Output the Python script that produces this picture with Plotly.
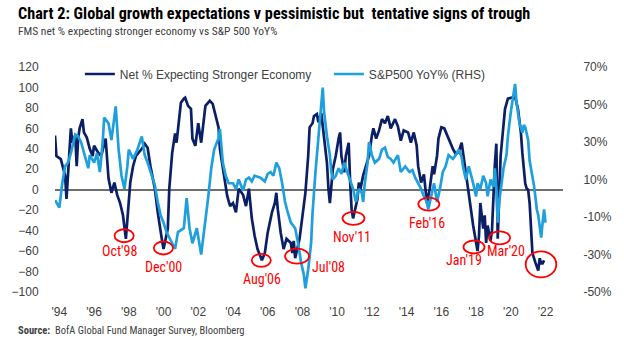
import pandas as pd
import plotly.graph_objects as go

# ---------------- data ----------------
fms_dates = [
    "1994-09", "1994-10", "1995-01", "1995-03", "1995-04", "1995-05", "1995-07", "1995-08", "1995-09", "1995-11",
    "1995-12", "1996-01", "1996-02", "1996-04", "1996-05", "1996-07", "1996-09", "1996-11", "1996-12", "1997-03",
    "1997-05", "1997-07", "1997-08", "1997-10", "1997-12", "1998-02", "1998-04", "1998-06", "1998-08", "1998-10",
    "1998-12", "1999-01", "1999-03", "1999-05", "1999-09", "1999-11", "2000-01", "2000-03", "2000-06", "2000-08",
    "2000-11", "2000-12", "2001-03", "2001-04", "2001-06", "2001-08", "2001-09", "2001-11", "2001-12", "2002-02",
    "2002-03", "2002-05", "2002-07", "2002-08", "2002-10", "2002-12", "2003-02", "2003-05", "2003-08", "2003-10",
    "2003-12", "2004-02", "2004-03", "2004-06", "2004-08", "2004-10", "2004-12", "2005-02", "2005-04", "2005-07",
    "2005-09", "2005-11", "2006-01", "2006-03", "2006-05", "2006-08", "2006-10", "2006-12", "2007-03", "2007-05",
    "2007-06", "2007-07", "2007-09", "2007-11", "2008-01", "2008-04", "2008-05", "2008-06", "2008-07", "2008-10",
    "2008-12", "2009-02", "2009-04", "2009-05", "2009-07", "2009-08", "2009-10", "2009-11", "2010-01", "2010-02",
    "2010-03", "2010-05", "2010-06", "2010-07", "2010-09", "2010-11", "2011-01", "2011-02", "2011-03", "2011-05",
    "2011-06", "2011-08", "2011-09", "2011-10", "2011-11", "2012-02", "2012-03", "2012-04", "2012-06", "2012-08",
    "2012-10", "2012-12", "2013-01", "2013-03", "2013-05", "2013-07", "2013-09", "2013-11", "2014-01", "2014-04",
    "2014-06", "2014-08", "2014-10", "2015-01", "2015-03", "2015-05", "2015-07", "2015-08", "2015-10", "2015-12",
    "2016-02", "2016-04", "2016-06", "2016-07", "2016-09", "2016-10", "2016-12", "2017-02", "2017-04", "2017-06",
    "2017-08", "2017-10", "2017-12", "2018-02", "2018-04", "2018-06", "2018-08", "2018-10", "2019-01", "2019-02",
    "2019-03", "2019-05", "2019-06", "2019-07", "2019-08", "2019-10", "2019-11", "2019-12", "2020-01", "2020-02",
    "2020-03", "2020-05", "2020-07", "2020-08", "2020-10", "2020-12", "2021-03", "2021-05", "2021-07", "2021-08",
    "2021-10", "2021-11", "2021-12", "2022-01", "2022-03", "2022-05", "2022-07", "2022-08", "2022-09", "2022-10",
    "2022-11",
]
fms_values = [
    53, 33, 30, 19, 14, -9, 43, 60, 46, 53,
    23, 50, 60, 69, 56, 51, 40, 33, 43, 36,
    33, 43, 50, 11, -3, 7, -5, -13, -25, -48,
    -16, 7, 23, 33, 40, 45, 41, 23, 1, -22,
    -50, -58, -38, 1, 36, 55, 46, 72, 85, 89,
    90, 82, 79, 50, 43, 65, 46, 82, 87, 84,
    72, 61, 40, 11, -6, -16, -13, -22, 1, -5,
    -16, 1, -28, -45, -58, -69, -62, -42, -22, -13,
    -3, -19, -42, -58, -48, -52, -62, -50, -67, -48,
    -25, -3, 33, 61, 65, 72, 74, 66, 75, 63,
    46, 26, 1, -13, 20, 33, 50, 56, 33, 17,
    33, 46, 7, -19, -28, -9, 7, 0, 14, 23,
    33, 53, 60, 50, 58, 69, 65, 72, 60, 69,
    62, 48, 58, 56, 46, 56, 43, 23, 7, 15,
    -13, 1, 23, 15, 33, 50, 61, 60, 53, 46,
    40, 35, 37, 46, 26, 7, -13, -35, -60, -45,
    -13, -38, -25, -52, -35, -50, -40, 1, 25, 45,
    -48, 33, 63, 79, 89, 90, 91, 79, 56, 36,
    6, 1, 0, -13, -62, -71, -79, -67, -72, -72,
    -69,
]

spx_dates = [
    "1994-09", "1994-12", "1995-02", "1995-04", "1995-06", "1995-08", "1995-11", "1996-01", "1996-03", "1996-05",
    "1996-08", "1996-09", "1996-12", "1997-02", "1997-04", "1997-06", "1997-07", "1997-10", "1997-12", "1998-03",
    "1998-05", "1998-07", "1998-09", "1998-11", "1998-12", "1999-03", "1999-05", "1999-06", "1999-09", "1999-11",
    "2000-01", "2000-04", "2000-06", "2000-08", "2000-10", "2000-12", "2001-02", "2001-06", "2001-08", "2001-10",
    "2002-02", "2002-04", "2002-06", "2002-08", "2002-11", "2003-02", "2003-05", "2003-07", "2003-09", "2003-11",
    "2004-02", "2004-03", "2004-05", "2004-07", "2004-09", "2004-12", "2005-02", "2005-04", "2005-07", "2005-09",
    "2005-11", "2006-01", "2006-03", "2006-07", "2006-10", "2006-12", "2007-02", "2007-04", "2007-06", "2007-08",
    "2007-10", "2007-12", "2008-02", "2008-04", "2008-07", "2008-09", "2008-11", "2009-01", "2009-02", "2009-04",
    "2009-06", "2009-07", "2009-09", "2009-11", "2009-12", "2010-01", "2010-02", "2010-03", "2010-05", "2010-07",
    "2010-08", "2010-09", "2010-11", "2011-01", "2011-03", "2011-05", "2011-07", "2011-08", "2011-11", "2012-01",
    "2012-03", "2012-05", "2012-06", "2012-07", "2012-09", "2012-10", "2012-12", "2013-02", "2013-05", "2013-07",
    "2013-09", "2013-11", "2014-01", "2014-03", "2014-06", "2014-08", "2014-11", "2015-02", "2015-04", "2015-06",
    "2015-08", "2015-10", "2015-12", "2016-02", "2016-03", "2016-05", "2016-07", "2016-09", "2016-11", "2017-01",
    "2017-03", "2017-05", "2017-08", "2017-10", "2017-12", "2018-02", "2018-03", "2018-05", "2018-07", "2018-10",
    "2018-12", "2019-01", "2019-03", "2019-05", "2019-07", "2019-08", "2019-10", "2019-12", "2020-01", "2020-02",
    "2020-03", "2020-04", "2020-06", "2020-07", "2020-09", "2020-10", "2020-12", "2021-02", "2021-03", "2021-04",
    "2021-06", "2021-08", "2021-09", "2021-10", "2021-12", "2022-01", "2022-03", "2022-04", "2022-05", "2022-06",
    "2022-07", "2022-09", "2022-10", "2022-11", "2022-12",
]
spx_values = [
    -1, -5, 8, 17, 19, 24, 34, 33, 30, 24,
    16, 23, 19, 24, 14, 30, 43, 40, 31, 49,
    26, 12, 5, 17, 26, 21, 24, 26, 33, 23,
    19, 12, 7, -2, -9, -13, -18, -24, -27, -18,
    -16, 0, -16, -24, -16, -30, -13, 1, 16, 26,
    32, 37, 19, 12, 8, 8, 5, 10, 4, 10,
    11, 9, 12, 11, 9, 13, 14, 12, 19, 16,
    8, -2, -8, -13, -16, -24, -34, -41, -48, -38,
    -24, -8, 14, 30, 40, 50, 59, 46, 33, 23,
    14, 10, 12, 16, 13, 19, 14, 12, 5, -2,
    5, 3, -2, 7, 19, 30, 23, 19, 21, 26,
    27, 22, 21, 19, 23, 14, 17, 14, 15, 11,
    8, 5, 1, -2, -6, 1, 8, -2, 5, 14,
    17, 23, 21, 23, 26, 22, 17, 10, 17, 8,
    1, 8, 5, 12, 8, 1, 10, 6, 16, 5,
    -13, -2, 10, 16, 23, 33, 46, 55, 61, 51,
    40, 35, 39, 38, 31, 20, 12, 7, 1, -6,
    -9, -21, -13, -6, -13,
]

tick_dates = [f"{y}-12-01" for y in range(1994, 2023, 2)]
tick_labels = ["'94", "'96", "'98", "'00", "'02", "'04", "'06", "'08", "'10", "'12", "'14", "'16", "'18", "'20", "'22"]
left_ticks = [120, 100, 80, 60, 40, 20, 0, -20, -40, -60, -80, -100]
right_ticks = [70, 50, 30, 10, -10, -30, -50]

# trough call-outs (left-axis units)
ring_dates = ["1998-08-25", "2000-11-28", "2006-07-19", "2008-08-10", "2011-11-10",
              "2016-03-13", "2018-10-19", "2020-04-10", "2022-08-28"]
ring_values = [-45, -57, -69, -65, -28, -14, -56, -47, -73]
ring_w_px = [20, 20, 20, 25, 23, 22, 22, 22, 32]
ring_h_px = [13, 13, 13, 15, 13, 13, 13, 13, 26]
callout_text = ["Oct'98", "Dec'00", "Aug'06", "Jul'08", "Nov'11", "Feb'16", "Jan'19", "Mar'20"]
callout_dates = ["1998-05-10", "2000-11-22", "2006-07-25", "2010-06-03", "2011-10-15",
                 "2016-02-01", "2018-03-12", "2020-08-15"]
callout_values = [-60, -76, -87, -76, -46, -33, -69, -60]

# ---------------- style ----------------
W, H = 624, 342
L, R, T, B = 46, 47, 67, 50
PW, PH = W - L - R, H - T - B
NAVY = "#0b1f66"
LIGHT = "#1fa0dc"
RED = "#ff0000"
GREY = "#404040"
NARROW = "Liberation Sans Narrow, Arial Narrow, Roboto Condensed, sans-serif"
BODY = "Liberation Sans, Arial, sans-serif"

DAYS_PER_PX = 20.13
UNITS_PER_PX = 220 / PH


def px_x(x):
    return (x - L) / PW


def px_y(y):
    return (H - B - y) / PH


fig = go.Figure()
fig.add_trace(go.Scatter(
    x=fms_dates, y=fms_values, mode="lines", name="Net % Expecting Stronger Economy",
    line=dict(color=NAVY, width=2.7),
))
fig.add_trace(go.Scatter(
    x=spx_dates, y=spx_values, mode="lines", name="S&P500 YoY% (RHS)", yaxis="y2",
    line=dict(color=LIGHT, width=2.7),
))

shapes = []
for d, v, w, h in zip(ring_dates, ring_values, ring_w_px, ring_h_px):
    c = pd.Timestamp(d)
    dx = pd.Timedelta(days=w / 2 * DAYS_PER_PX)
    shapes.append(dict(
        type="circle", xref="x", yref="y",
        x0=c - dx, x1=c + dx, y0=v - h / 2 * UNITS_PER_PX, y1=v + h / 2 * UNITS_PER_PX,
        line=dict(color=RED, width=1.8), layer="above",
    ))

annotations = []
for t, d, v in zip(callout_text, callout_dates, callout_values):
    annotations.append(dict(
        x=d, y=v, xref="x", yref="y", text=t, showarrow=False,
        font=dict(family=NARROW, size=14, color=RED),
    ))

annotations += [
    dict(xref="paper", yref="paper", x=px_x(5), y=px_y(13), xanchor="left", yanchor="middle",
         text="<b>Chart 2: Global growth expectations v pessimistic but  tentative signs of trough</b>",
         showarrow=False, font=dict(family=NARROW, size=16.2, color="#000000")),
    dict(xref="paper", yref="paper", x=px_x(5), y=px_y(31), xanchor="left", yanchor="middle",
         text="FMS net % expecting stronger economy vs S&P 500 YoY%",
         showarrow=False, font=dict(family=NARROW, size=11.5, color=GREY)),
    dict(xref="paper", yref="paper", x=px_x(5), y=px_y(330), xanchor="left", yanchor="middle",
         text="<b>Source:</b>  BofA Global Fund Manager Survey, Bloomberg",
         showarrow=False, font=dict(family=NARROW, size=10.5, color=GREY)),
]

fig.update_layout(
    width=W, height=H,
    margin=dict(l=L, r=R, t=T, b=B, pad=0),
    paper_bgcolor="white", plot_bgcolor="white",
    showlegend=True,
    legend=dict(
        orientation="h", x=px_x(72), y=px_y(74), xanchor="left", yanchor="middle",
        bgcolor="rgba(0,0,0,0)", entrywidth=204, entrywidthmode="pixels",
        font=dict(family=BODY, size=12, color=GREY), itemwidth=30,
    ),
    xaxis=dict(
        type="date", range=["1994-09-01", "2023-12-04"],
        tickmode="array", tickvals=tick_dates, ticktext=tick_labels,
        showgrid=False, zeroline=False, showline=False,
        ticks="outside", ticklen=9, tickcolor="rgba(0,0,0,0)",
        tickfont=dict(family=BODY, size=12, color=GREY),
    ),
    yaxis=dict(
        range=[-100, 120], tickmode="array", tickvals=left_ticks,
        showgrid=False, showline=False,
        zeroline=True, zerolinecolor="#6e6e6e", zerolinewidth=1.6,
        ticks="outside", ticklen=13, tickcolor="rgba(0,0,0,0)",
        tickfont=dict(family=BODY, size=12, color=GREY),
    ),
    yaxis2=dict(
        range=[-50, 70], overlaying="y", side="right", tickmode="array",
        tickvals=right_ticks, ticktext=[f"{v}%" for v in right_ticks],
        showgrid=False, showline=False, zeroline=False,
        ticks="outside", ticklen=17, tickcolor="rgba(0,0,0,0)",
        tickfont=dict(family=BODY, size=12, color=GREY),
    ),
    shapes=shapes,
    annotations=annotations,
)

fig.write_html("out.html")
